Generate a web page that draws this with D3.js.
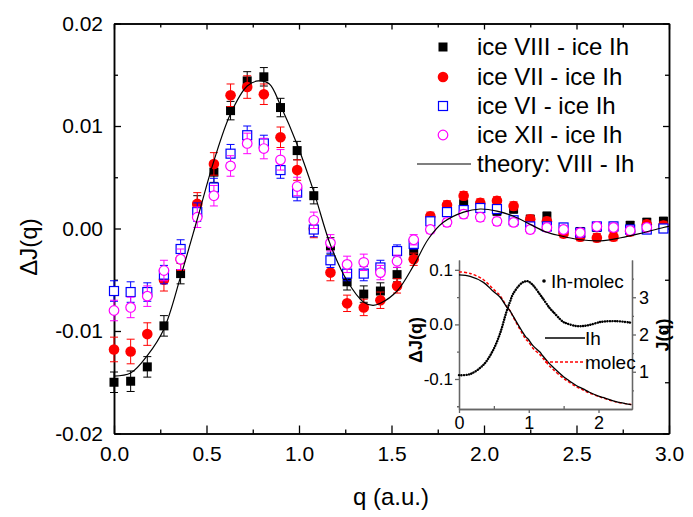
<!DOCTYPE html>
<html>
<head>
<meta charset="utf-8">
<script src="https://cdn.jsdelivr.net/npm/d3@7"></script>
<style>
  body { margin: 0; background: #fff; }
  text { font-family: "Liberation Sans", Arial, sans-serif; }
</style>
</head>
<body>
<div id="chart"></div>
<script>
var width = 693, height = 517;

// main plot data: q grid and the four difference curves
var qs = [0, 0.09, 0.18, 0.27, 0.36, 0.45, 0.54, 0.63, 0.72, 0.81, 0.90, 0.99, 1.08, 1.17, 1.26, 1.35, 1.44,
          1.53, 1.62, 1.71, 1.80, 1.89, 1.98, 2.07, 2.16, 2.25, 2.34, 2.43, 2.52, 2.61, 2.70, 2.79, 2.88, 2.97];

var iceVIII = [-0.0150, -0.0149, -0.0135, -0.0095, -0.0044, 0.0022, 0.0055, 0.0115, 0.0144, 0.0148, 0.0118, 0.0076,
               0.0032, -0.0017, -0.0052, -0.0064, -0.0061, -0.0045, -0.0022, 0.0010, 0.0020, 0.0024, 0.0022, 0.0017,
               0.0019, 0.0009, 0.0012, -0.0001, -0.0003, 0.0001, 0.0002, 0.0003, 0.0006, 0.0007];
var iceVII = [-0.0118, -0.0120, -0.0103, -0.0050, -0.0030, 0.0024, 0.0063, 0.0130, 0.0138, 0.0131, 0.0089, 0.0057,
              0.0000, -0.0043, -0.0073, -0.0077, -0.0070, -0.0056, -0.0030, 0.0012, 0.0023, 0.0032, 0.0025, 0.0027,
              0.0022, 0.0009, 0.0007, -0.0005, -0.0008, -0.0009, -0.0008, -0.0003, 0.0004, 0.0003];
var iceVI = [-0.0061, -0.0062, -0.0062, -0.0045, -0.0020, 0.0016, 0.0040, 0.0073, 0.0091, 0.0083, 0.0057, 0.0035,
             -0.0001, -0.0031, -0.0044, -0.0044, -0.0038, -0.0022, -0.0015, 0.0007, 0.0016, 0.0018, 0.0020, 0.0019,
             0.0008, 0.0002, 0.0002, 0.0001, -0.0004, 0.0002, 0.0002, -0.0001, -0.0001, 0.0000];
var iceXII = [-0.0080, -0.0077, -0.0066, -0.0041, -0.0030, 0.0011, 0.0032, 0.0061, 0.0083, 0.0078, 0.0067, 0.0041,
              0.0008, -0.0014, -0.0035, -0.0033, -0.0043, -0.0032, -0.0011, -0.0001, 0.0006, 0.0014, 0.0011, 0.0007,
              0.0006, -0.0001, 0.0001, -0.0001, -0.0004, 0.0002, 0.0001, -0.0002, 0.0001, null];

var errVIII = [0.0010, 0.0010, 0.0010, 0.0010, 0.0010, 0.0010, 0.0010, 0.0009, 0.0009, 0.0009, 0.0009, 0.0009,
               0.0008, 0.0008, 0.0008, 0.0008, 0.0008, 0.0007, 0.0006, 0.0004, 0.0004, 0.0004, 0.0004, 0.0004,
               0.0004, 0.0004, 0.0004, 0.0004, 0.0004, 0.0004, 0.0004, 0.0004, 0.0004, 0.0004];
var errVII = [0.0012, 0.0012, 0.0011, 0.0011, 0.0011, 0.0011, 0.0011, 0.0011, 0.0011, 0.0010, 0.0010, 0.0010,
              0.0009, 0.0008, 0.0008, 0.0008, 0.0008, 0.0007, 0.0006, 0.0004, 0.0004, 0.0004, 0.0004, 0.0004,
              0.0004, 0.0004, 0.0004, 0.0004, 0.0004, 0.0004, 0.0004, 0.0004, 0.0004, 0.0004];
var errVI = [0.0010, 0.0010, 0.0009, 0.0009, 0.0009, 0.0009, 0.0009, 0.0009, 0.0009, 0.0008, 0.0008, 0.0008,
             0.0007, 0.0007, 0.0007, 0.0007, 0.0007, 0.0006, 0.0005, 0.0004, 0.0004, 0.0004, 0.0004, 0.0004,
             0.0004, 0.0004, 0.0004, 0.0004, 0.0004, 0.0004, 0.0004, 0.0004, 0.0004, 0.0004];
var errXII = [0.0010, 0.0010, 0.0010, 0.0010, 0.0010, 0.0010, 0.0010, 0.0010, 0.0010, 0.0010, 0.0010, 0.0009,
              0.0008, 0.0008, 0.0008, 0.0008, 0.0007, 0.0006, 0.0005, 0.0004, 0.0004, 0.0004, 0.0004, 0.0004,
              0.0004, 0.0004, 0.0004, 0.0004, 0.0004, 0.0004, 0.0004, 0.0004, 0.0004, 0.0004];

// theory curve (VIII - Ih)
var theoryQ = [0, 0.09, 0.18, 0.27, 0.36, 0.45, 0.54, 0.63, 0.72, 0.78, 0.84, 0.90, 0.99, 1.08, 1.17, 1.26, 1.35,
               1.40, 1.44, 1.53, 1.62, 1.70, 1.78, 1.89, 1.98, 2.07, 2.16, 2.25, 2.33, 2.41, 2.52, 2.63, 2.74,
               2.84, 2.97, 3.0];
var theoryV = [-0.0144, -0.0141, -0.0124, -0.0098, -0.0047, 0.0009, 0.0066, 0.0112, 0.0139, 0.0144, 0.0141,
               0.0120, 0.0082, 0.0036, -0.0016, -0.0051, -0.0072, -0.0075, -0.0073, -0.0061, -0.0036, -0.0010,
               0.0006, 0.0016, 0.0019, 0.0017, 0.0012, 0.0004, -0.0003, -0.0007, -0.0011, -0.0012, -0.0009,
               -0.0005, 0.0001, 0.0002];

// inset data
var insetQ = [0, 0.16, 0.35, 0.49, 0.59, 0.68, 0.73, 0.78, 0.90, 0.96, 0.99, 1.06, 1.16, 1.20, 1.30, 1.35, 1.49,
              1.54, 1.68, 1.78, 1.87, 2.01, 2.06, 2.25, 2.47];
var jIh = [3.60, 3.56, 3.40, 3.16, 3.00, 2.75, 2.64, 2.48, 2.10, 1.93, 1.88, 1.70, 1.53, 1.43, 1.21, 1.12, 0.88,
           0.81, 0.63, 0.54, 0.45, 0.34, 0.31, 0.20, 0.12];
var jMolec = [3.68, 3.64, 3.47, 3.22, 3.04, 2.76, 2.64, 2.46, 2.05, 1.87, 1.82, 1.63, 1.46, 1.37, 1.15, 1.06, 0.83,
              0.77, 0.60, 0.51, 0.43, 0.33, 0.30, 0.19, 0.12];
var dJ = [-0.093, -0.091, -0.074, -0.047, -0.016, 0.023, 0.041, 0.057, 0.076, 0.079, 0.079, 0.072, 0.055, 0.048,
          0.030, 0.023, 0.005, 0.002, -0.003, -0.003, -0.001, 0.004, 0.005, 0.006, 0.003];

var seriesNames = ["ice VIII - ice Ih", "ice VII - ice Ih", "ice VI - ice Ih", "ice XII - ice Ih"];

var svg = d3.select("#chart").append("svg")
    .attr("width", width).attr("height", height);

var x = d3.scaleLinear().domain([0, 3]).range([114, 669]);
var y = d3.scaleLinear().domain([-0.02, 0.02]).range([433.5, 23.5]);

// axes: major + minor ticks pointing inward, mirrored top/right
function tickRange(a, b, s) { var out = []; for (var v = a; v <= b + 1e-9; v += s) out.push(+v.toFixed(4)); return out; }
var xMajor = tickRange(0, 3, 0.5), xMinor = tickRange(0.25, 2.75, 0.5);
var yMajor = tickRange(-0.02, 0.02, 0.01), yMinor = tickRange(-0.015, 0.015, 0.01);

function styleAxis(g, col) {
  g.selectAll("path").attr("stroke", col).attr("stroke-width", 1.5);
  g.selectAll("line").attr("stroke", col).attr("stroke-width", 1.3);
  g.selectAll("text").attr("fill", "#000");
}

svg.append("g").attr("transform", "translate(0,433.5)")
    .call(d3.axisBottom(x).tickValues(xMajor).tickSize(-8).tickPadding(13).tickSizeOuter(0).tickFormat(d => d.toFixed(1)))
    .call(g => g.selectAll("text").attr("font-size", 21));
svg.append("g").attr("transform", "translate(0,433.5)")
    .call(d3.axisBottom(x).tickValues(xMinor).tickSize(-4).tickSizeOuter(0).tickFormat(""));
svg.append("g").attr("transform", "translate(0,23.5)")
    .call(d3.axisTop(x).tickValues(xMajor).tickSize(-6).tickSizeOuter(0).tickFormat(""));
svg.append("g").attr("transform", "translate(0,23.5)")
    .call(d3.axisTop(x).tickValues(xMinor).tickSize(-4).tickSizeOuter(0).tickFormat(""));

svg.append("g").attr("transform", "translate(114,0)")
    .call(d3.axisLeft(y).tickValues(yMajor).tickSize(-7).tickPadding(11).tickSizeOuter(0).tickFormat(d => d.toFixed(2)))
    .call(g => g.selectAll("text").attr("font-size", 21));
svg.append("g").attr("transform", "translate(114,0)")
    .call(d3.axisLeft(y).tickValues(yMinor).tickSize(-4).tickSizeOuter(0).tickFormat(""));
svg.append("g").attr("transform", "translate(669,0)")
    .call(d3.axisRight(y).tickValues(yMajor).tickSize(-6).tickSizeOuter(0).tickFormat(""));
svg.append("g").attr("transform", "translate(669,0)")
    .call(d3.axisRight(y).tickValues(yMinor).tickSize(-4).tickSizeOuter(0).tickFormat(""));
svg.selectAll("g").each(function () { styleAxis(d3.select(this), "#000"); });

// axis titles
svg.append("text").attr("x", 391).attr("y", 505).attr("text-anchor", "middle")
    .attr("font-size", 24).text("q (a.u.)");
svg.append("text").attr("transform", "translate(37,247) rotate(-90)").attr("text-anchor", "middle")
    .attr("font-size", 24).text("\u0394J(q)");

// data series
var series = [
  {name: seriesNames[0], vals: iceVIII, err: errVIII, color: "#000000", shape: "square", filled: true},
  {name: seriesNames[1], vals: iceVII, err: errVII, color: "#ff0000", shape: "circle", filled: true},
  {name: seriesNames[2], vals: iceVI, err: errVI, color: "#0000ff", shape: "square", filled: false},
  {name: seriesNames[3], vals: iceXII, err: errXII, color: "#ff00ff", shape: "circle", filled: false}
];

function drawMarker(g, s, cx, cy) {
  if (s.shape === "square") {
    g.append("rect").attr("x", cx - 4.5).attr("y", cy - 4.5).attr("width", 9).attr("height", 9)
      .attr("fill", s.filled ? s.color : "#fff").attr("stroke", s.color).attr("stroke-width", s.filled ? 0 : 1.2);
  } else {
    g.append("circle").attr("cx", cx).attr("cy", cy).attr("r", s.filled ? 5.3 : 4.8)
      .attr("fill", s.filled ? s.color : "#fff").attr("stroke", s.color).attr("stroke-width", s.filled ? 0 : 1.2);
  }
}

series.forEach(function (s) {
  var pts = qs.map((q, i) => ({q: q, v: s.vals[i], e: s.err[i]})).filter(d => d.v !== null);
  var g = svg.append("g");
  pts.forEach(function (d) {
    var px = x(d.q), y0 = y(d.v - d.e), y1 = y(d.v + d.e);
    g.append("line").attr("x1", px).attr("x2", px).attr("y1", y0).attr("y2", y1)
      .attr("stroke", s.color).attr("stroke-width", 1);
    [y0, y1].forEach(yy => g.append("line").attr("x1", px - 4).attr("x2", px + 4).attr("y1", yy).attr("y2", yy)
      .attr("stroke", s.color).attr("stroke-width", 1));
  });
  pts.forEach(d => drawMarker(g, s, x(d.q), y(d.v)));
});

// theory line
var theory = theoryQ.map((q, i) => [q, theoryV[i]]);
svg.append("path").datum(theory)
    .attr("fill", "none").attr("stroke", "#000").attr("stroke-width", 1.2)
    .attr("d", d3.line().x(d => x(d[0])).y(d => y(d[1])).curve(d3.curveCatmullRom));

// legend
var legY = [47, 77, 106, 135, 164];
series.forEach(function (s, i) {
  var g = svg.append("g");
  drawMarker(g, s, 443, legY[i]);
  g.append("text").attr("x", 477).attr("y", legY[i] + 8).attr("font-size", 24).text(s.name);
});
svg.append("line").attr("x1", 417).attr("x2", 471).attr("y1", legY[4]).attr("y2", legY[4])
    .attr("stroke", "#000").attr("stroke-width", 1.2);
svg.append("text").attr("x", 477).attr("y", legY[4] + 8).attr("font-size", 24).text("theory: VIII - Ih");

// ---- inset ----
var ix = d3.scaleLinear().domain([0, 2.48]).range([459, 632]);
var iyL = d3.scaleLinear().domain([-0.155, 0.118]).range([409, 260]);
var iyR = d3.scaleLinear().domain([0, 4]).range([409, 260]);
var inset = svg.append("g");
var grey = "#666";

inset.append("g").attr("transform", "translate(0,409)")
    .call(d3.axisBottom(ix).tickValues([0, 1, 2]).tickSize(4).tickPadding(3).tickSizeOuter(0).tickFormat(d3.format("d")))
    .call(g => g.selectAll("text").attr("font-size", 18));
inset.append("g").attr("transform", "translate(0,409)")
    .call(d3.axisBottom(ix).tickValues([0.5, 1.5]).tickSize(-3).tickSizeOuter(0).tickFormat(""));
inset.append("g").attr("transform", "translate(459,0)")
    .call(d3.axisLeft(iyL).tickValues([-0.1, 0, 0.1]).tickSize(4).tickPadding(2).tickSizeOuter(0).tickFormat(d => d.toFixed(1)))
    .call(g => g.selectAll("text").attr("font-size", 17));
inset.append("g").attr("transform", "translate(459,0)")
    .call(d3.axisLeft(iyL).tickValues([-0.15, -0.05, 0.05]).tickSize(2).tickSizeOuter(0).tickFormat(""));
inset.append("g").attr("transform", "translate(632,0)")
    .call(d3.axisRight(iyR).tickValues([1, 2, 3]).tickSize(4).tickPadding(3).tickSizeOuter(0).tickFormat(d3.format("d")))
    .call(g => g.selectAll("text").attr("font-size", 18));
inset.append("g").attr("transform", "translate(632,0)")
    .call(d3.axisRight(iyR).tickValues([0.5, 1.5, 2.5, 3.5]).tickSize(2).tickSizeOuter(0).tickFormat(""));
inset.selectAll("g").each(function () { styleAxis(d3.select(this), grey); });
inset.selectAll("path.domain").attr("stroke-width", 1.3);

inset.append("text").attr("transform", "translate(422,340) rotate(-90)").attr("text-anchor", "middle")
    .attr("font-size", 18).attr("font-weight", "bold").text("\u0394J(q)");
inset.append("text").attr("transform", "translate(669,335) rotate(-90)").attr("text-anchor", "middle")
    .attr("font-size", 18).attr("font-weight", "bold").text("J(q)");

var curve = d3.curveCatmullRom;
inset.append("path").datum(insetQ.map((q, i) => [q, jMolec[i]]))
    .attr("fill", "none").attr("stroke", "#ff0000").attr("stroke-width", 1.5).attr("stroke-dasharray", "3,2")
    .attr("d", d3.line().x(d => ix(d[0])).y(d => iyR(d[1])).curve(curve));
inset.append("path").datum(insetQ.map((q, i) => [q, jIh[i]]))
    .attr("fill", "none").attr("stroke", "#000").attr("stroke-width", 1.3)
    .attr("d", d3.line().x(d => ix(d[0])).y(d => iyR(d[1])).curve(curve));
inset.append("path").datum(insetQ.map((q, i) => [q, dJ[i]]))
    .attr("fill", "none").attr("stroke", "#000").attr("stroke-width", 2.4)
    .attr("stroke-linecap", "round").attr("stroke-dasharray", "0.1,2.4")
    .attr("d", d3.line().x(d => ix(d[0])).y(d => iyL(d[1])).curve(curve));

// inset legend
inset.append("circle").attr("cx", 544).attr("cy", 281).attr("r", 1.8).attr("fill", "#000");
inset.append("text").attr("x", 551).attr("y", 288).attr("font-size", 19).text("Ih-molec");
inset.append("line").attr("x1", 545).attr("x2", 585).attr("y1", 338).attr("y2", 338)
    .attr("stroke", "#000").attr("stroke-width", 1.3);
inset.append("text").attr("x", 585).attr("y", 345).attr("font-size", 19).text("Ih");
inset.append("line").attr("x1", 545).attr("x2", 585).attr("y1", 362).attr("y2", 362)
    .attr("stroke", "#ff0000").attr("stroke-width", 1.5).attr("stroke-dasharray", "3,2");
inset.append("text").attr("x", 585).attr("y", 369).attr("font-size", 19).text("molec");
</script>
</body>
</html>
